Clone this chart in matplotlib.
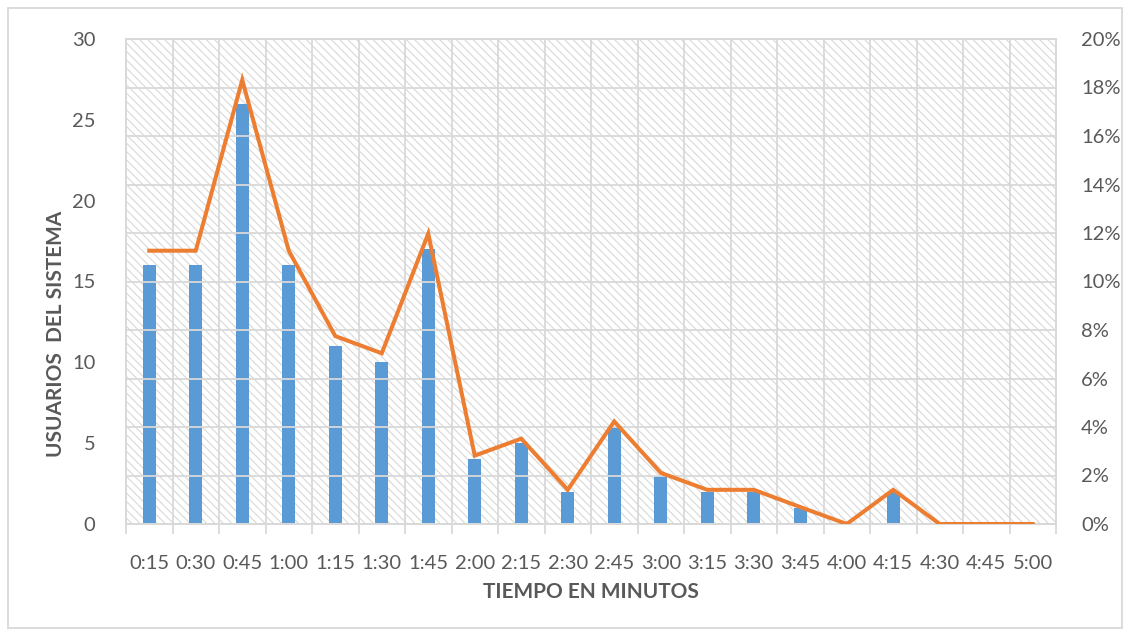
import matplotlib
matplotlib.use("Agg")
import matplotlib.pyplot as plt
from matplotlib.patches import Rectangle
from matplotlib.ticker import FuncFormatter, MultipleLocator, FixedLocator
import numpy as np

# Intervalos de tiempo (min:seg)
tiempos = ["0:15", "0:30", "0:45", "1:00", "1:15", "1:30", "1:45", "2:00", "2:15", "2:30",
           "2:45", "3:00", "3:15", "3:30", "3:45", "4:00", "4:15", "4:30", "4:45", "5:00"]
# Número de usuarios por intervalo
usuarios = [16, 16, 26, 16, 11, 10, 17, 4, 5, 2, 6, 3, 2, 2, 1, 0, 2, 0, 0, 0]
# Porcentaje de usuarios por intervalo
porcentaje = [11.27, 11.27, 18.31, 11.27, 7.75, 7.04, 11.97, 2.82, 3.52, 1.41,
              4.23, 2.11, 1.41, 1.41, 0.70, 0.0, 1.41, 0.0, 0.0, 0.0]

GRAY_TXT = "#595959"
GRID = "#D9D9D9"
BLUE = "#5B9BD5"
ORANGE = "#ED7D31"

plt.rcParams["font.family"] = ["Lato", "DejaVu Sans"]
plt.rcParams["hatch.color"] = "#D6D6D6"
plt.rcParams["hatch.linewidth"] = 0.75

fig = plt.figure(figsize=(11.3, 6.35), dpi=100)
ax = fig.add_axes([126 / 1130, 1 - 524 / 635, (1056 - 126) / 1130, (524 - 39) / 635])
ax2 = ax.twinx()

x = np.arange(len(tiempos))

# Fondo rayado del área de trazado
ax.patch.set_facecolor("white")
ax.patch.set_hatch("\\\\\\\\")
ax.patch.set_edgecolor("#D6D6D6")
ax.patch.set_linewidth(0)

ax.bar(x, usuarios, width=0.28, color=BLUE, zorder=3)
ax.set_xlim(-0.5, len(tiempos) - 0.5)
ax.set_ylim(0, 30)
ax.yaxis.set_major_locator(MultipleLocator(5))

ax2.plot(x, porcentaje, color=ORANGE, linewidth=2.9, zorder=4, solid_joinstyle="miter")
ax2.set_ylim(0, 20)
ax2.yaxis.set_major_locator(MultipleLocator(2))
ax2.yaxis.set_major_formatter(FuncFormatter(lambda v, p: f"{v:.0f}%"))

# Rejilla: horizontales cada 2 %, verticales en los límites de categoría
for yv in np.arange(0, 21, 2):
    ax2.axhline(yv, color=GRID, linewidth=1.3, zorder=1)
for xv in np.arange(-0.5, len(tiempos), 1):
    ax.axvline(xv, color=GRID, linewidth=1.3, zorder=1)

ax.set_xticks(x)
ax.set_xticklabels(tiempos)
ax.xaxis.set_minor_locator(FixedLocator(np.arange(-0.5, len(tiempos), 1)))
ax.tick_params(axis="x", which="major", length=0, pad=22, labelsize=14.5, labelcolor=GRAY_TXT)
ax.tick_params(axis="x", which="minor", length=7, width=1.3, color=GRID)
ax.tick_params(axis="y", length=0, pad=22, labelsize=14.5, labelcolor=GRAY_TXT)
ax2.tick_params(axis="y", length=0, pad=18, labelsize=14.5, labelcolor=GRAY_TXT)

for a in (ax, ax2):
    for s in a.spines.values():
        s.set_color(GRID)
        s.set_linewidth(1.3)

ax.set_axisbelow(True)

fig.text(56 / 1130, 1 - 334 / 635, "USUARIOS  DEL SISTEMA", rotation=90,
         ha="center", va="center", fontsize=15, fontweight="bold", color=GRAY_TXT)
fig.text(591 / 1130, 1 - 592 / 635, "TIEMPO EN MINUTOS",
         ha="center", va="center", fontsize=15, fontweight="bold", color=GRAY_TXT)

# Borde exterior del gráfico
fig.patches.append(Rectangle((8 / 1130, 7 / 635), 1114 / 1130, 620 / 635,
                             transform=fig.transFigure, fill=False,
                             edgecolor=GRID, linewidth=1.3))

fig.savefig("out.png", dpi=100, facecolor="white")
